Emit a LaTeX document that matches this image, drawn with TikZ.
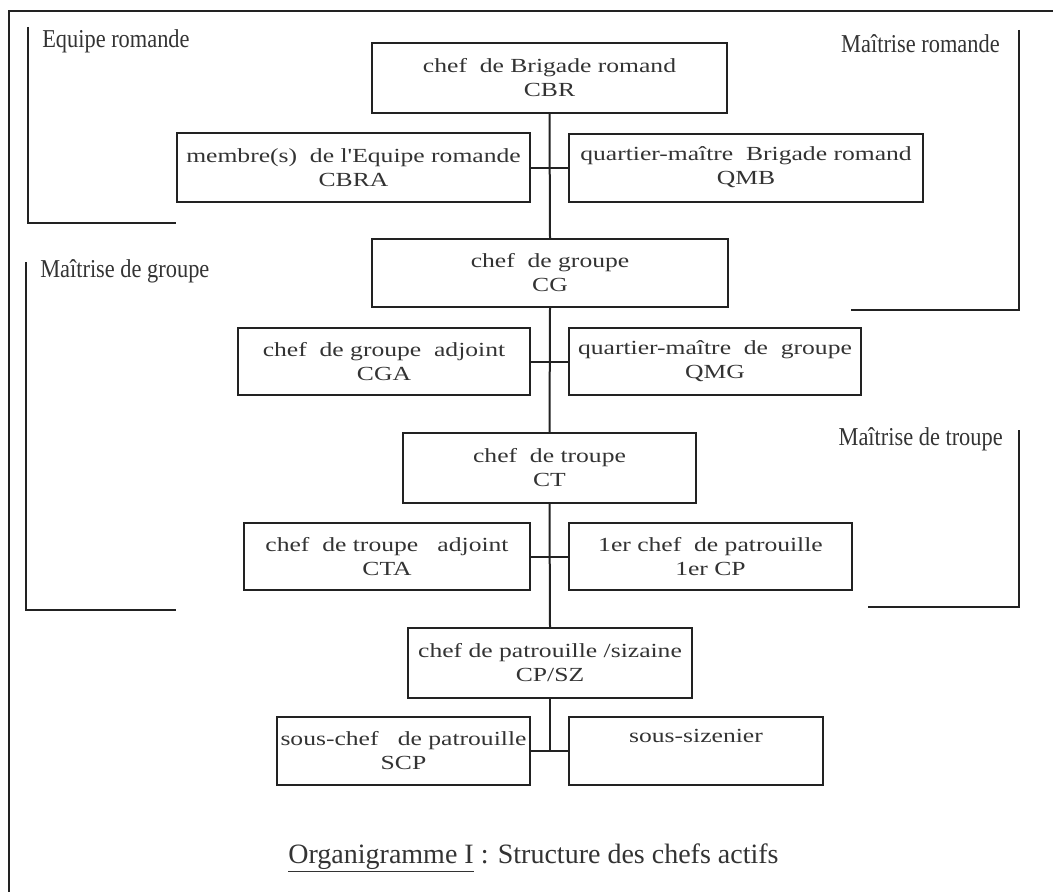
\documentclass[tikz,border=0pt]{standalone}
\usepackage{fontspec}
\setmainfont{Liberation Serif}
\newfontfamily\boxfont[FakeStretch=1.28]{Liberation Serif}
\newfontfamily\lblfont[FakeStretch=0.87]{Liberation Serif}
\newfontfamily\capfont{Liberation Serif}
\definecolor{ink}{HTML}{222222}
\definecolor{txt}{HTML}{333333}
\tikzset{
  box/.style n args={2}{draw=ink, line width=1.5pt, rectangle, inner sep=0pt,
    minimum width=#1*0.75pt, minimum height=#2*0.75pt, align=center,
    text=txt, font=\boxfont\fontsize{15}{18}\selectfont},
  link/.style={draw=ink, line width=1.5pt},
  bracket/.style={draw=ink, line width=1.5pt},
  grp/.style={text=txt, inner sep=0pt, font=\lblfont\fontsize{19.3}{22}\selectfont},
}
\begin{document}
\begin{tikzpicture}[x=0.75pt,y=-0.75pt]
\useasboundingbox (0,0) rectangle (1053,892);
% frame (cropped on right and bottom)
\draw[bracket] (9,892) -- (9,11) -- (1053,11);
% group brackets
\draw[bracket] (28,27) -- (28,223) -- (176,223);
\draw[bracket] (1019,30) -- (1019,310) -- (851,310);
\draw[bracket] (26,262) -- (26,610) -- (176,610);
\draw[bracket] (1019,430) -- (1019,607) -- (868,607);
% group labels
\node[grp, anchor=base west] (lER) at (42,48) {Equipe romande};
\node[grp, anchor=base east] (lMR) at (1000,53) {Maîtrise romande};
\node[grp, anchor=base west] (lMG) at (40,277) {Maîtrise de groupe};
\node[grp, anchor=base east] (lMT) at (1003,445) {Maîtrise de troupe};
% boxes
\node[box={355}{70}] (cbr) at (549.5,78) {chef\ \ de Brigade romand\\CBR};
\node[box={353}{69}] (cbra) at (353.5,167.5) {membre(s)\ \ de l\char"0027 Equipe romande\\CBRA};
\node[box={354}{68}] (qmb) at (746,167.5) {quartier-maître\ \ Brigade romand\\QMB};
\node[box={356}{68}] (cg) at (550,273) {chef\ \ de groupe\\CG};
\node[box={292}{67}] (cga) at (384,361.5) {chef\ \ de groupe\ \ adjoint\\CGA};
\node[box={292}{67}] (qmg) at (715,361.5) {quartier-maître\ \ de\ \ groupe\\QMG};
\node[box={293}{70}] (ct) at (549.5,468) {chef\ \ de troupe\\CT};
\node[box={286}{67}] (cta) at (387,556.5) {chef\ \ de troupe\ \ \ adjoint\\CTA};
\node[box={283}{67}] (pcp) at (710.5,556.5) {1er chef\ \ de patrouille\\1er CP};
\node[box={284}{70}] (cpsz) at (550,663) {chef de patrouille /sizaine\\CP/SZ};
\node[box={253}{68}] (scp) at (403.5,751) {sous-chef\ \ \ de patrouille\\SCP};
\node[box={254}{68}] (ssz) at (696,751) {sous-sizenier\\\strut};
% connectors
\draw[link] (cbr.south) -- (cg.north);
\draw[link] (cg.south) -- (ct.north);
\draw[link] (ct.south) -- (cpsz.north);
\coordinate (jn) at (cpsz.south |- scp.east);
\draw[link] (cpsz.south) -- (jn);
\draw[link] (cbra.east) -- (qmb.west);
\draw[link] (cga.east) -- (qmg.west);
\draw[link] (cta.east) -- (pcp.west);
\draw[link] (scp.east) -- (ssz.west);
% caption
\node[anchor=base, inner sep=0pt, text=txt, font=\capfont\fontsize{21}{24}\selectfont] (cap) at (533.5,863)
  {\underline{Organigramme I} : Structure des chefs actifs};
\end{tikzpicture}
\end{document}
